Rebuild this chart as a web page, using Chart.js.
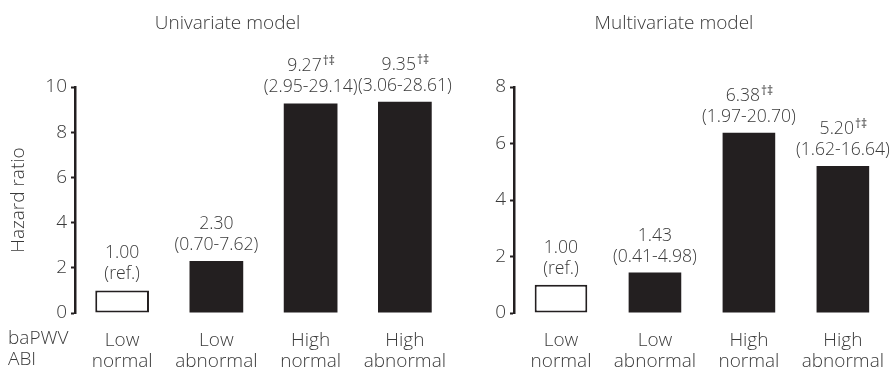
<!DOCTYPE html>
<html><head><meta charset="utf-8">
<script src="https://cdn.jsdelivr.net/npm/chart.js@4/dist/chart.umd.min.js"></script>
<style>
html,body{margin:0;padding:0;background:#fff;}
#wrap{position:relative;width:893px;height:368px;overflow:hidden;background:#fff;}
#c1{position:absolute;left:0;top:0;}
#c2{position:absolute;left:455px;top:0;}
</style></head><body>
<div id="wrap"><canvas id="c1" width="455" height="368"></canvas><canvas id="c2" width="438" height="368"></canvas></div>
<script>
// ---- data ----
const categories = [['Low','normal'],['Low','abnormal'],['High','normal'],['High','abnormal']];
const rowLabels = ['baPWV','ABI'];

const uniTitle = 'Univariate model';
const uniValues = [1.00, 2.30, 9.27, 9.35];
const uniLabels = ['1.00','2.30','9.27','9.35'];
const uniMarks = ['','','†‡','†‡'];
const uniCI = ['(ref.)','(0.70-7.62)','(2.95-29.14)','(3.06-28.61)'];
const uniMax = 10;

const multiTitle = 'Multivariate model';
const multiValues = [1.00, 1.43, 6.38, 5.20];
const multiLabels = ['1.00','1.43','6.38','5.20'];
const multiMarks = ['','','†‡','†‡'];
const multiCI = ['(ref.)','(0.41-4.98)','(1.97-20.70)','(1.62-16.64)'];
const multiMax = 8;

const yTitle = 'Hazard ratio';

// ---- style ----
const FONT = "'Open Sans', 'Noto Sans', sans-serif";
const FS = 19;
const LFS = 17.6;
const TXT = '#3a3a3a';
const INK = '#231f20';

const labelPlugin = {
  id: 'barLabels',
  afterDatasetsDraw(chart, args, opts) {
    const ctx = chart.ctx;
    const meta = chart.getDatasetMeta(0);
    ctx.save();
    ctx.fillStyle = TXT;
    ctx.textBaseline = 'alphabetic';
    meta.data.forEach((el, i) => {
      const x = el.x, top = el.y;
      ctx.font = '300 ' + LFS + 'px ' + FONT;
      ctx.textAlign = 'center';
      ctx.fillText(opts.ci[i], x, top - 11);
      const main = opts.labels[i], mk = opts.marks[i];
      ctx.font = '300 ' + LFS + 'px ' + FONT;
      const wm = ctx.measureText(main).width;
      ctx.font = '400 12px ' + FONT;
      const ws = mk ? ctx.measureText(mk).width : 0;
      const x0 = x - (wm + ws) / 2;
      ctx.textAlign = 'left';
      ctx.font = '300 ' + LFS + 'px ' + FONT;
      ctx.fillText(main, x0, top - 32);
      if (mk) {
        ctx.font = '400 12px ' + FONT;
        ctx.fillText(mk, x0 + wm + 1, top - 38);
      }
    });
    ctx.restore();
  }
};

const rowPlugin = {
  id: 'rowLabels',
  afterDraw(chart, args, opts) {
    if (!opts.show) return;
    const ctx = chart.ctx;
    ctx.save();
    ctx.fillStyle = TXT;
    ctx.font = '300 ' + FS + 'px ' + FONT;
    ctx.textAlign = 'left';
    ctx.textBaseline = 'alphabetic';
    ctx.fillText(rowLabels[0], 8, 344);
    ctx.fillText(rowLabels[1], 8, 365);
    ctx.restore();
  }
};

function makeChart(id, title, values, labels, marks, ci, maxV, yAxisWidth, showYTitle, showRows, barPct) {
  return new Chart(document.getElementById(id), {
    type: 'bar',
    data: {
      labels: categories,
      datasets: [{
        data: values,
        backgroundColor: values.map((v, i) => i === 0 ? '#ffffff' : INK),
        borderColor: INK,
        borderWidth: values.map((v, i) => i === 0 ? 2 : 0),
        borderSkipped: false,
        barPercentage: barPct,
        categoryPercentage: 1.0
      }]
    },
    options: {
      responsive: false,
      animation: false,
      layout: { padding: { left: 0, right: 0, top: 0, bottom: 0 } },
      plugins: {
        legend: { display: false },
        tooltip: { enabled: false },
        title: {
          display: true, text: title, color: TXT,
          font: { family: FONT, size: FS, weight: '300', lineHeight: 1.2 },
          padding: { top: 12, bottom: 87 - 12 - FS * 1.2 }
        },
        barLabels: { labels: labels, marks: marks, ci: ci },
        rowLabels: { show: showRows }
      },
      scales: {
        x: {
          grid: { display: false },
          border: { display: false },
          ticks: {
            color: TXT, padding: 9, maxRotation: 0, autoSkip: false,
            font: { family: FONT, size: FS, weight: '300', lineHeight: 21 / FS }
          },
          afterFit(s) { s.height = 55; }
        },
        y: {
          min: 0, max: maxV,
          grid: { display: true, drawOnChartArea: false, drawTicks: true, tickLength: 4, tickWidth: 2, color: INK },
          border: { display: true, width: 2.5, color: INK },
          ticks: {
            stepSize: 2, color: TXT, padding: 4,
            font: { family: FONT, size: FS, weight: '300' }
          },
          title: {
            display: showYTitle, text: yTitle, color: TXT,
            font: { family: FONT, size: FS, weight: '300', lineHeight: 1.2 },
            padding: { top: 7, bottom: 0 }
          },
          afterFit(s) { s.width = yAxisWidth; }
        }
      }
    },
    plugins: [labelPlugin, rowPlugin]
  });
}

makeChart('c1', uniTitle, uniValues, uniLabels, uniMarks, uniCI, uniMax, 75, true, true, 0.57);
makeChart('c2', multiTitle, multiValues, multiLabels, multiMarks, multiCI, multiMax, 59, false, false, 0.56);
</script>
</body></html>
